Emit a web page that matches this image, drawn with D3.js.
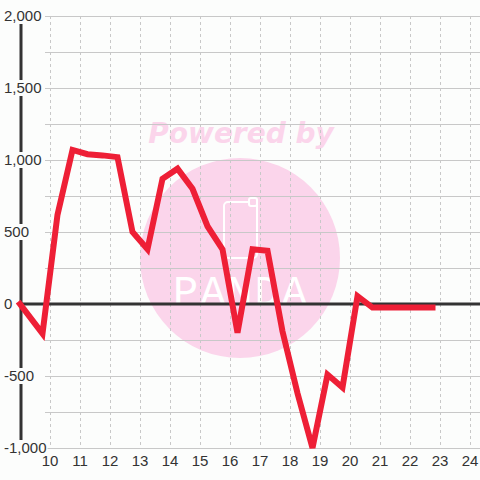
<!DOCTYPE html>
<html><head><meta charset="utf-8">
<script src="https://cdn.jsdelivr.net/npm/d3@7"></script>
<style>html,body{margin:0;padding:0;background:#fcfdfc;}svg{display:block;}</style>
</head><body>
<svg id="c" width="480" height="480"></svg>
<script>
const hours = [9.0, 9.75, 10.25, 10.75, 11.25, 11.75, 12.25, 12.75, 13.25, 13.75, 14.25, 14.75, 15.25, 15.75, 16.25, 16.75, 17.25, 17.75, 18.25, 18.75, 19.25, 19.75, 20.25, 20.75, 21.25, 21.75, 22.25, 22.75];
const values = [0, -205, 620, 1070, 1040, 1032, 1020, 500, 380, 870, 940, 800, 540, 380, -200, 380, 370, -190, -620, -1000, -490, -580, 55, -25, -25, -25, -25, -25];
const yTicks = [-1000, -500, 0, 500, 1000, 1500, 2000];
const yTickLabels = ["-1,000", "-500", "0", "500", "1,000", "1,500", "2,000"];
const yMinor = [-750, -250, 250, 750, 1250, 1750];
const xTicks = [10, 11, 12, 13, 14, 15, 16, 17, 18, 19, 20, 21, 22, 23, 24];
const xTickLabels = ["10", "11", "12", "13", "14", "15", "16", "17", "18", "19", "20", "21", "22", "23", "24"];

const svg = d3.select("#c");
const x = d3.scaleLinear().domain([9, 24.3333]).range([20, 480]);
const y = d3.scaleLinear().domain([-1000, 2000]).range([448, 16]);

svg.append("rect").attr("width", 480).attr("height", 480).attr("fill", "#fcfdfc");

// watermark
const wm = svg.append("g");
wm.append("circle").attr("cx", 240).attr("cy", 258).attr("r", 100).attr("fill", "#fbd5eb");
wm.append("text").attr("x", 241).attr("y", 143).attr("text-anchor", "middle")
  .attr("font-family", "DejaVu Sans").attr("font-weight", "bold").attr("font-style", "italic")
  .attr("font-size", 28).attr("fill", "#fbd5eb").text("Powered by");
wm.append("rect").attr("x", 224).attr("y", 202).attr("width", 33).attr("height", 56).attr("rx", 4)
  .attr("fill", "none").attr("stroke", "#fff").attr("stroke-width", 2);
wm.append("rect").attr("x", 249).attr("y", 198).attr("width", 8).attr("height", 8).attr("rx", 2)
  .attr("fill", "#fbd5eb").attr("stroke", "#fff").attr("stroke-width", 2);
wm.append("text").attr("x", 173).attr("y", 305).attr("textLength", 134).attr("lengthAdjust", "spacing")
  .attr("font-family", "Liberation Mono").attr("font-size", 42).attr("fill", "#fff")
  .text("PANDA");

// grid
const grid = svg.append("g");
const hVals = yTicks.concat(yMinor).filter(v => v !== 0);
grid.selectAll(".h").data(hVals).join("line")
  .attr("x1", 45).attr("x2", 480)
  .attr("y1", d => Math.round(y(d)) + 0.5).attr("y2", d => Math.round(y(d)) + 0.5)
  .attr("stroke", "#c8c8c8").attr("stroke-width", 1);
grid.selectAll(".v").data(xTicks).join("line")
  .attr("x1", d => Math.round(x(d)) + 0.5).attr("x2", d => Math.round(x(d)) + 0.5)
  .attr("y1", y(2000)).attr("y2", y(-1000))
  .attr("stroke", "#c8c8c8").attr("stroke-width", 1).attr("stroke-dasharray", "3,3");

// left axis line
svg.append("line").attr("x1", 21).attr("x2", 21).attr("y1", y(2000)).attr("y2", y(-1000))
  .attr("stroke", "#333").attr("stroke-width", 3);
// zero line
svg.append("line").attr("x1", 20).attr("x2", 480).attr("y1", y(0)).attr("y2", y(0))
  .attr("stroke", "#333").attr("stroke-width", 3);

// y labels with white boxes
const yl = svg.append("g");
yTicks.forEach((v, i) => {
  const g = yl.append("g");
  const t = g.append("text").attr("x", 4).attr("y", y(v)).attr("dy", "0.36em")
    .attr("font-family", "Liberation Sans, Arial, sans-serif").attr("font-size", 15)
    .attr("fill", "#333").text(yTickLabels[i]);
  const bb = t.node().getBBox();
  g.insert("rect", "text").attr("x", bb.x - 1).attr("y", y(v) - 8).attr("width", bb.width + 2).attr("height", 16)
    .attr("fill", "#fcfdfc");
});

// x labels
svg.append("g").selectAll("text").data(xTicks).join("text")
  .attr("x", d => x(d)).attr("y", 466).attr("text-anchor", "middle")
  .attr("font-family", "Liberation Sans, Arial, sans-serif").attr("font-size", 15)
  .attr("fill", "#333").text((d, i) => xTickLabels[i]);

// series line
const line = d3.line().x((d, i) => x(hours[i])).y(d => y(d));
svg.append("path").datum(values).attr("d", line)
  .attr("fill", "none").attr("stroke", "#ee1f36").attr("stroke-width", 6)
  .attr("stroke-linejoin", "miter").attr("stroke-linecap", "square");
</script>
</body></html>
